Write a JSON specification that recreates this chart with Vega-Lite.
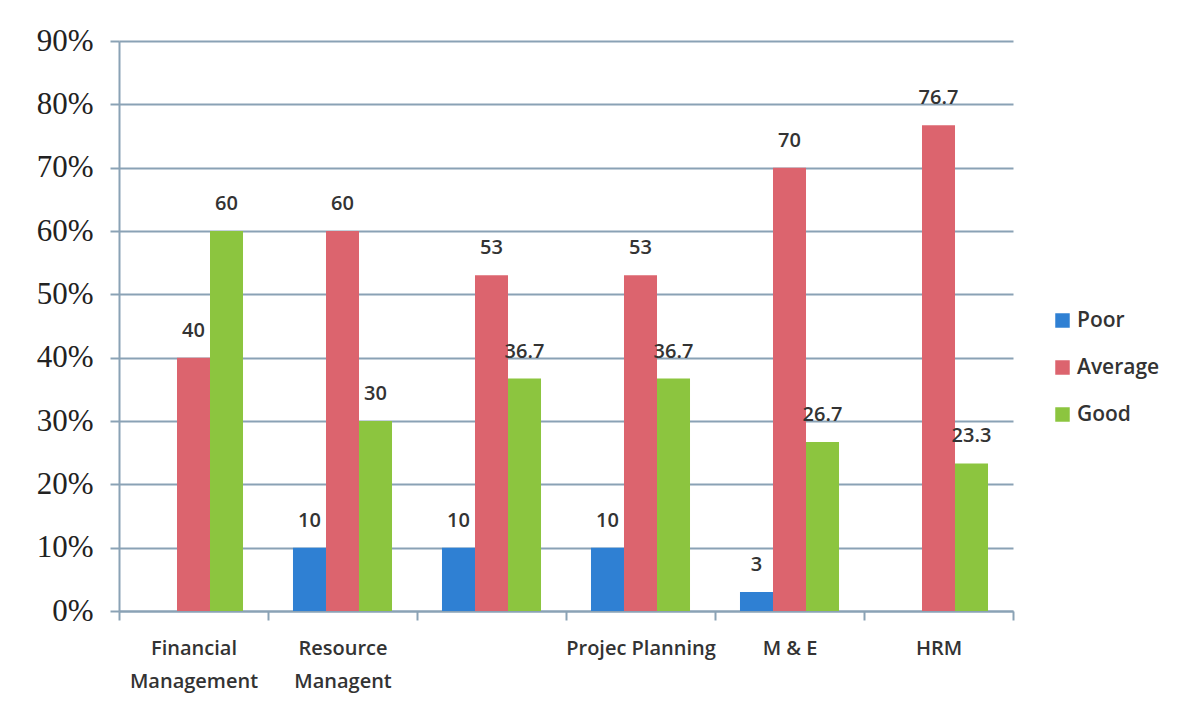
{
  "$schema": "https://vega.github.io/schema/vega-lite/v6.json",
  "autosize": {"type": "none"},
  "padding": {"left": 119, "top": 41, "right": 178, "bottom": 116},
  "width": 894,
  "height": 570,
  "background": "white",
  "config": {"view": {"stroke": null}},
  "data": {"values": [
    {"category": "Financial Management", "level": "Average", "value": 40},
    {"category": "Financial Management", "level": "Good", "value": 60},
    {"category": "Resource Managent", "level": "Poor", "value": 10},
    {"category": "Resource Managent", "level": "Average", "value": 60},
    {"category": "Resource Managent", "level": "Good", "value": 30},
    {"category": " ", "level": "Poor", "value": 10},
    {"category": " ", "level": "Average", "value": 53},
    {"category": " ", "level": "Good", "value": 36.7},
    {"category": "Projec Planning", "level": "Poor", "value": 10},
    {"category": "Projec Planning", "level": "Average", "value": 53},
    {"category": "Projec Planning", "level": "Good", "value": 36.7},
    {"category": "M & E", "level": "Poor", "value": 3},
    {"category": "M & E", "level": "Average", "value": 70},
    {"category": "M & E", "level": "Good", "value": 26.7},
    {"category": "HRM", "level": "Average", "value": 76.7},
    {"category": "HRM", "level": "Good", "value": 23.3}
  ]},
  "encoding": {
    "x": {
      "field": "category", "type": "nominal", "sort": null,
      "scale": {"paddingInner": 0, "paddingOuter": 0},
      "axis": {
        "title": null, "labelAngle": 0, "tickBand": "extent",
        "domainColor": "#8aa2b5", "domainWidth": 2, "tickColor": "#8aa2b5", "tickWidth": 2, "tickSize": 9,
        "labelFont": "Open Sans", "labelFontWeight": 600, "labelFontSize": 20, "labelColor": "#333333", "labelPadding": 18,
        "labelBaseline": "top", "labelLineHeight": 33,
        "labelExpr": "datum.label == 'Financial Management' ? ['Financial', 'Management'] : datum.label == 'Resource Managent' ? ['Resource', 'Managent'] : datum.label"
      }
    },
    "xOffset": {"field": "level", "type": "nominal", "scale": {"domain": ["Poor", "Average", "Good"], "paddingInner": 0, "paddingOuter": 0.757}},
    "y": {
      "field": "value", "type": "quantitative",
      "scale": {"domain": [0, 90], "nice": false},
      "axis": {
        "title": null, "values": [0, 10, 20, 30, 40, 50, 60, 70, 80, 90],
        "labelExpr": "datum.value + '%'",
        "labelFont": "Liberation Serif", "labelFontSize": 31, "labelColor": "#222222", "labelPadding": 17,
        "tickSize": 9, "tickColor": "#8aa2b5", "tickWidth": 2,
        "domainColor": "#8aa2b5", "domainWidth": 2,
        "grid": true, "gridColor": "#8aa2b5", "gridWidth": 2
      }
    },
    "color": {
      "field": "level", "type": "nominal",
      "scale": {"domain": ["Poor", "Average", "Good"], "range": ["#2f80d3", "#dc646e", "#8cc53f"]},
      "legend": {
        "title": null, "orient": "none", "legendX": 933, "legendY": 269,
        "symbolType": "square", "symbolSize": 210, "symbolStrokeWidth": 0,
        "labelFont": "Open Sans", "labelFontWeight": 600, "labelFontSize": 21, "labelColor": "#333333", "labelOffset": 4,
        "rowPadding": 25
      }
    }
  },
  "layer": [
    {"mark": {"type": "bar"}},
    {
      "mark": {"type": "text", "baseline": "middle", "dy": -27, "font": "Open Sans", "fontWeight": 600, "fontSize": 20, "color": "#333333"},
      "encoding": {"text": {"field": "value", "type": "quantitative", "format": ".3~r"}, "color": {"value": "#333333"}}
    }
  ]
}
